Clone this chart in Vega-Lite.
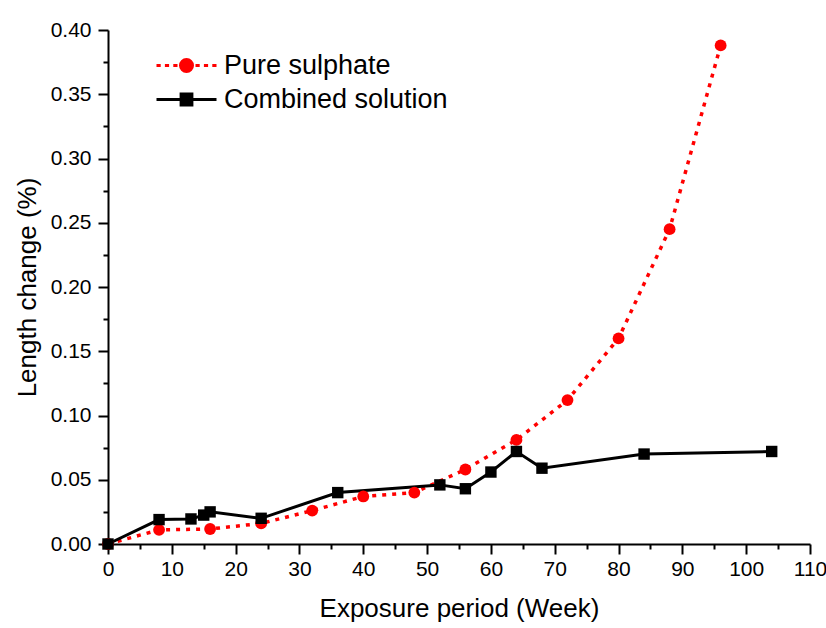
{
  "$schema": "https://vega.github.io/schema/vega-lite/v6.json",
  "width": 702,
  "height": 514,
  "autosize": {"type": "none"},
  "padding": {"left": 108, "top": 30, "right": 16, "bottom": 84},
  "background": "white",
  "config": {
    "view": {"stroke": null},
    "font": "Liberation Sans",
    "axis": {
      "domainColor": "#000000",
      "domainWidth": 2,
      "tickColor": "#000000",
      "tickWidth": 2,
      "labelColor": "#000000",
      "labelFont": "Liberation Sans",
      "labelFontSize": 21,
      "titleFont": "Liberation Sans",
      "titleFontSize": 26,
      "titleFontWeight": "normal",
      "titleColor": "#000000",
      "grid": false
    },
    "legend": {
      "title": null,
      "orient": "none",
      "legendX": 77,
      "legendY": 19,
      "symbolSize": 900,
      "symbolStrokeWidth": 3,
      "labelFont": "Liberation Sans",
      "labelFontSize": 27,
      "labelColor": "#000000",
      "labelLimit": 400,
      "labelOffset": 6,
      "rowPadding": 4
    }
  },
  "data": {
    "values": [
      {"series": "Pure sulphate", "week": 0, "change": 0.0},
      {"series": "Pure sulphate", "week": 8, "change": 0.011},
      {"series": "Pure sulphate", "week": 16, "change": 0.0117},
      {"series": "Pure sulphate", "week": 24, "change": 0.016},
      {"series": "Pure sulphate", "week": 32, "change": 0.026},
      {"series": "Pure sulphate", "week": 40, "change": 0.037},
      {"series": "Pure sulphate", "week": 48, "change": 0.040},
      {"series": "Pure sulphate", "week": 56, "change": 0.058},
      {"series": "Pure sulphate", "week": 64, "change": 0.081},
      {"series": "Pure sulphate", "week": 72, "change": 0.112},
      {"series": "Pure sulphate", "week": 80, "change": 0.160},
      {"series": "Pure sulphate", "week": 88, "change": 0.245},
      {"series": "Pure sulphate", "week": 96, "change": 0.388},
      {"series": "Combined solution", "week": 0, "change": 0.0},
      {"series": "Combined solution", "week": 8, "change": 0.019},
      {"series": "Combined solution", "week": 13, "change": 0.0195},
      {"series": "Combined solution", "week": 15, "change": 0.0225},
      {"series": "Combined solution", "week": 16, "change": 0.025},
      {"series": "Combined solution", "week": 24, "change": 0.020},
      {"series": "Combined solution", "week": 36, "change": 0.040},
      {"series": "Combined solution", "week": 52, "change": 0.046},
      {"series": "Combined solution", "week": 56, "change": 0.043},
      {"series": "Combined solution", "week": 60, "change": 0.056},
      {"series": "Combined solution", "week": 64, "change": 0.072},
      {"series": "Combined solution", "week": 68, "change": 0.059},
      {"series": "Combined solution", "week": 84, "change": 0.070},
      {"series": "Combined solution", "week": 104, "change": 0.072}
    ]
  },
  "encoding": {
    "x": {
      "field": "week",
      "type": "quantitative",
      "scale": {"domain": [0, 110], "nice": false, "zero": false},
      "axis": {
        "title": "Exposure period (Week)",
        "values": [0,5,10,15,20,25,30,35,40,45,50,55,60,65,70,75,80,85,90,95,100,105,110],
        "labelExpr": "datum.value % 10 === 0 ? datum.value : ''",
        "tickSize": {"condition": {"test": "datum.value % 10 === 0", "value": 10}, "value": 5},
        "labelPadding": 4,
        "labelFlush": false,
        "labelOverlap": false,
        "titlePadding": 16
      }
    },
    "y": {
      "field": "change",
      "type": "quantitative",
      "scale": {"domain": [0, 0.4], "nice": false},
      "axis": {
        "title": "Length change (%)",
        "values": [0,0.025,0.05,0.075,0.1,0.125,0.15,0.175,0.2,0.225,0.25,0.275,0.3,0.325,0.35,0.375,0.4],
        "labelExpr": "round(datum.value*40) % 2 === 0 ? format(datum.value, '.2f') : ''",
        "tickSize": {"condition": {"test": "round(datum.value*40) % 2 === 0", "value": 10}, "value": 5},
        "labelPadding": 7,
        "labelFlush": false,
        "labelOverlap": false,
        "titlePadding": 10
      }
    }
  },
  "layer": [
    {
      "transform": [{"filter": "datum.series === 'Pure sulphate'"}],
      "mark": {"type": "line", "strokeWidth": 3.5, "color": "#ff0000", "strokeDash": [4, 6]}
    },
    {
      "transform": [{"filter": "datum.series === 'Combined solution'"}],
      "mark": {"type": "line", "strokeWidth": 3, "color": "#000000"}
    },
    {
      "transform": [{"filter": "datum.series === 'Pure sulphate'"}],
      "mark": {"type": "point", "shape": "circle", "filled": true, "opacity": 1, "size": 140, "color": "#ff0000"}
    },
    {
      "transform": [{"filter": "datum.series === 'Combined solution'"}],
      "mark": {"type": "point", "shape": "square", "filled": true, "opacity": 1, "size": 130, "color": "#000000"}
    },
    {
      "data": {"values": [{"series": "Pure sulphate"}, {"series": "Combined solution"}]},
      "mark": {"type": "point", "filled": true, "opacity": 1, "strokeWidth": 3},
      "encoding": {
        "color": {
          "field": "series", "type": "nominal",
          "scale": {"domain": ["Pure sulphate", "Combined solution"], "range": ["#ff0000", "#000000"]}
        },
        "stroke": {
          "field": "series", "type": "nominal",
          "scale": {"domain": ["Pure sulphate", "Combined solution"], "range": ["#ff0000", "#000000"]}
        },
        "shape": {
          "field": "series", "type": "nominal",
          "scale": {
            "domain": ["Pure sulphate", "Combined solution"],
            "range": [
              "M-3,0H-2.72M-2.44,0H-2.16M-1.88,0H-1.6M-0.4,0H-0.12M0.16,0H0.44M0.72,0H1M-1.4,0A0.4,0.4,0,1,0,-0.6,0A0.4,0.4,0,1,0,-1.4,0Z",
              "M-3,0H-1.36M-0.64,0H1M-1.36,-0.36H-0.64V0.36H-1.36Z"
            ]
          }
        }
      }
    }
  ]
}
